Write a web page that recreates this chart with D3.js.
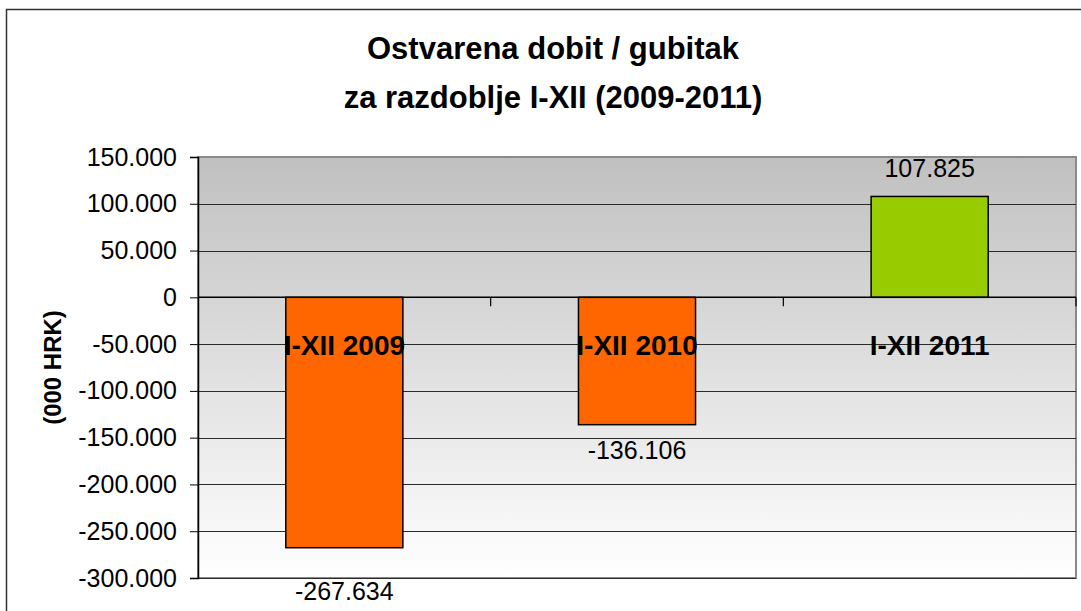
<!DOCTYPE html>
<html>
<head>
<meta charset="utf-8">
<title>Ostvarena dobit / gubitak</title>
<script src="https://d3js.org/d3.v7.min.js"></script>
<style>
  body { margin: 0; background: #fff; }
  text { font-family: "Liberation Sans", Arial, sans-serif; fill: #000; }
</style>
</head>
<body>
<div id="chart"></div>
<script>

const width = 1081;
const height = 611;

// data (000 HRK)
const categories = ["I-XII 2009", "I-XII 2010", "I-XII 2011"];
const values = [-267634, -136106, 107825];
const barColors = ["#ff6600", "#ff6600", "#99cc00"];
const yTicks = [150000, 100000, 50000, 0, -50000, -100000, -150000, -200000, -250000, -300000];
const titleLines = ["Ostvarena dobit / gubitak", "za razdoblje I-XII (2009-2011)"];
const yTitle = "(000 HRK)";

const plot = { left: 198, right: 1076, top: 157, bottom: 578 };

const hr = d3.formatLocale({ decimal: ",", thousands: ".", grouping: [3], currency: ["", ""], minus: "-" });
const fmt = hr.format(",d");

var svg = d3.select("#chart").append("svg").attr("width", width).attr("height", height);

// outer frame
svg.append("rect")
  .attr("x", 6.5).attr("y", 9.5)
  .attr("width", 1200).attr("height", 700)
  .attr("fill", "#fff").attr("stroke", "#333").attr("stroke-width", 1.5);

var x = d3.scaleBand().domain(categories).range([plot.left, plot.right]).paddingInner(0.6).paddingOuter(0.3);
var y = d3.scaleLinear().domain([-300000, 150000]).range([plot.bottom, plot.top]);

// plot background gradient
var grad = svg.append("defs").append("linearGradient")
  .attr("id", "bg").attr("x1", 0).attr("y1", 0).attr("x2", 0).attr("y2", 1);
grad.append("stop").attr("offset", "0%").attr("stop-color", "#c0c0c0");
grad.append("stop").attr("offset", "100%").attr("stop-color", "#ffffff");

svg.append("rect")
  .attr("x", plot.left).attr("y", plot.top)
  .attr("width", plot.right - plot.left).attr("height", plot.bottom - plot.top)
  .attr("fill", "url(#bg)").attr("stroke", "#8a8a8a").attr("stroke-width", 2);

// gridlines
svg.append("g")
  .selectAll("line")
  .data(yTicks.filter(d => d !== 150000))
  .enter().append("line")
  .attr("x1", plot.left).attr("x2", plot.right)
  .attr("y1", d => Math.round(y(d)) + 0.5).attr("y2", d => Math.round(y(d)) + 0.5)
  .attr("stroke", "#2a2a2a").attr("stroke-width", 1);

// y axis
var yAxis = svg.append("g")
  .attr("transform", "translate(" + plot.left + ",0)")
  .call(d3.axisLeft(y).tickValues(yTicks).tickFormat(fmt).tickSize(8).tickPadding(13));
yAxis.select(".domain").attr("stroke", "#000").attr("stroke-width", 1.5);
yAxis.selectAll(".tick line").attr("stroke", "#000");
yAxis.selectAll("text")
  .style("font-family", "'Liberation Sans', Arial, sans-serif")
  .style("font-size", "25px");

// bars
svg.append("g")
  .selectAll("rect")
  .data(values)
  .enter().append("rect")
  .attr("x", (d, i) => x(categories[i]))
  .attr("width", x.bandwidth())
  .attr("y", d => y(Math.max(0, d)))
  .attr("height", d => Math.abs(y(d) - y(0)))
  .attr("fill", (d, i) => barColors[i])
  .attr("stroke", "#000").attr("stroke-width", 1.5);

// category axis at zero
var step = (plot.right - plot.left) / categories.length;
svg.append("line")
  .attr("x1", plot.left).attr("x2", plot.right)
  .attr("y1", y(0)).attr("y2", y(0))
  .attr("stroke", "#000").attr("stroke-width", 1.5);
svg.append("g")
  .selectAll("line")
  .data(d3.range(1, categories.length + 1))
  .enter().append("line")
  .attr("x1", d => plot.left + d * step).attr("x2", d => plot.left + d * step)
  .attr("y1", y(0)).attr("y2", y(0) + 9)
  .attr("stroke", "#000").attr("stroke-width", 1.2);

svg.append("g")
  .selectAll("text")
  .data(categories)
  .enter().append("text")
  .attr("x", d => x(d) + x.bandwidth() / 2)
  .attr("y", y(0) + 58)
  .attr("text-anchor", "middle")
  .style("font-size", "28px").style("font-weight", "bold")
  .text(d => d);

// value labels (pushed below the axis when they would hit it)
function labelY(d) {
  if (d >= 0) return y(d) - 19;
  var yy = y(d) + 34;
  return yy > plot.bottom - 10 ? plot.bottom + 22 : yy;
}
svg.append("g")
  .selectAll("text")
  .data(values)
  .enter().append("text")
  .attr("x", (d, i) => x(categories[i]) + x.bandwidth() / 2)
  .attr("y", labelY)
  .attr("text-anchor", "middle")
  .style("font-size", "25px")
  .text(d => fmt(d));

// title
svg.append("g")
  .selectAll("text")
  .data(titleLines)
  .enter().append("text")
  .attr("x", 553)
  .attr("y", (d, i) => 59 + i * 49)
  .attr("text-anchor", "middle")
  .style("font-size", "31px").style("font-weight", "bold")
  .text(d => d);

// y axis title
svg.append("text")
  .attr("transform", "translate(61," + ((plot.top + plot.bottom) / 2) + ") rotate(-90)")
  .attr("text-anchor", "middle")
  .style("font-size", "24px").style("font-weight", "bold")
  .text(yTitle);

</script>
</body>
</html>
